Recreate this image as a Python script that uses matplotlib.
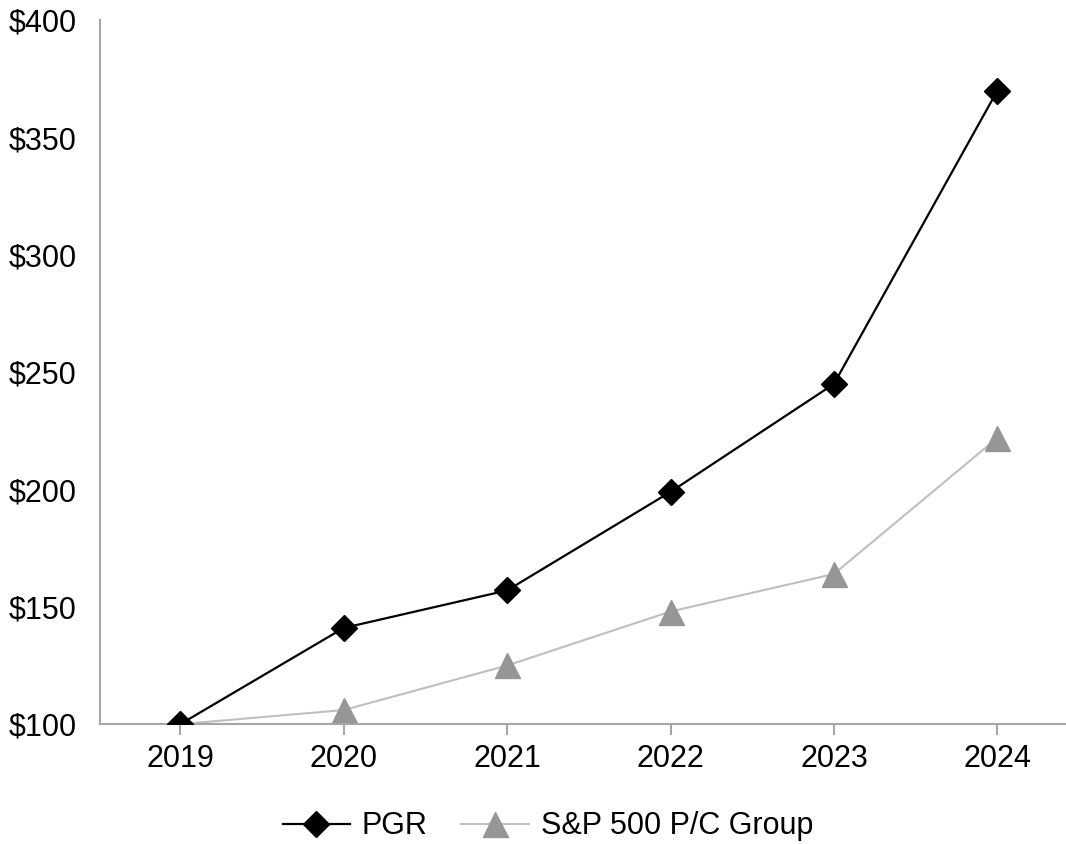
import matplotlib.pyplot as plt
from matplotlib.ticker import FuncFormatter

plt.rcParams['font.family'] = ['Liberation Sans', 'DejaVu Sans']

# datos
years = ['2019', '2020', '2021', '2022', '2023', '2024']
pgr = [100, 141, 157, 199, 245, 370]
sp_pc = [100, 106, 125, 148, 164, 222]

fig = plt.figure(figsize=(10.66, 8.44), dpi=100)
ax = fig.add_axes([0.094, 0.142, 0.906, 0.834])

x = range(len(years))
ax.plot(x, sp_pc, color='#BFBFBF', lw=1.5, marker='^', markersize=18,
        markerfacecolor='#969696', markeredgecolor='#969696',
        label='S&P 500 P/C Group', zorder=2)
ax.plot(x, pgr, color='black', lw=1.6, marker='D', markersize=13,
        markerfacecolor='black', markeredgecolor='black',
        label='PGR', zorder=3)

ax.set_ylim(100, 400)
ax.set_yticks([100, 150, 200, 250, 300, 350, 400])
ax.yaxis.set_major_formatter(FuncFormatter(lambda v, p: f'${v:.0f}'))
ax.set_xlim(-0.49, 5.42)
ax.set_xticks(list(x))
ax.set_xticklabels(years)

for s in ['top', 'right']:
    ax.spines[s].set_visible(False)
for s in ['left', 'bottom']:
    ax.spines[s].set_color('#A6A6A6')
    ax.spines[s].set_linewidth(1.5)
ax.tick_params(axis='y', length=0, labelsize=22, pad=17)
ax.tick_params(axis='x', length=8, color='#A6A6A6', width=1.5,
               labelsize=22, pad=6)

h, l = ax.get_legend_handles_labels()
fig.legend(h[::-1], l[::-1], loc='center', bbox_to_anchor=(0.514, 0.021),
           ncol=2, frameon=False, fontsize=22, handlelength=2.2,
           columnspacing=1.1, handletextpad=0.4)

fig.savefig('out.png', dpi=100)
